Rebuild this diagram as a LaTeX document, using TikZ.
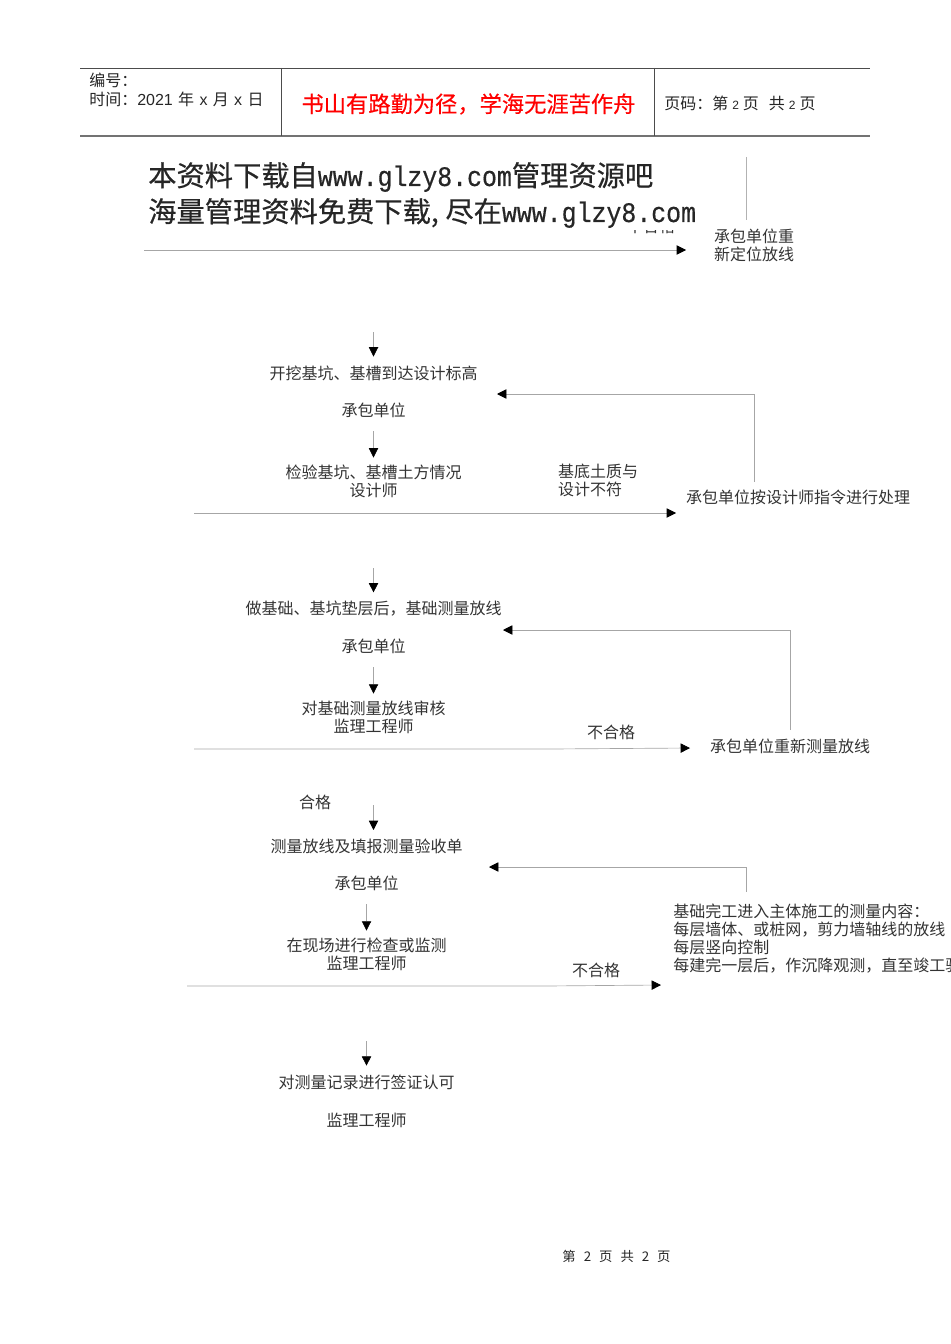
\documentclass[tikz,border=0pt]{standalone}
\usepackage{fontspec}
\setmainfont{Noto Sans CJK SC}
\newfontfamily\wmmono[FakeStretch=.88,FakeBold=.5]{Liberation Mono}
\newfontfamily\wmcjk[FakeBold=.5]{Noto Sans CJK SC}
\newfontfamily\redcjk[FakeBold=.35]{Noto Sans CJK SC}
\newfontfamily\hdlat{Liberation Sans}
\usetikzlibrary{arrows.meta}
\tikzset{
  lbl/.style={inner sep=3pt,font=\fontsize{12pt}{13.6pt}\selectfont,text=black!80,align=center},
  lblleft/.style={lbl,align=left,anchor=west},
  headtxt/.style={inner sep=0pt,anchor=west,font=\fontsize{12pt}{14pt}\selectfont,text=black!85,align=left},
  wmark/.style={inner sep=0pt,anchor=west,font=\wmcjk\fontsize{21.2pt}{24pt}\selectfont,text=black!85},
  flow/.style={draw=black!35,line width=.5pt,-{Triangle[length=7pt,width=7pt,fill=black,color=black]}},
  plain/.style={draw=black!30,line width=.5pt},
  rule/.style={draw=black!70,line width=.6pt}
}
\begin{document}
\begin{tikzpicture}[x=.75pt,y=-.75pt]
  \useasboundingbox (0,0) rectangle (950,1344);
  % header
  \coordinate (hTL) at (80,68);
  \coordinate (hTR) at (870,68);
  \coordinate (hBL) at (80,136);
  \coordinate (hBR) at (870,136);
  \coordinate (hA) at (281,68);
  \coordinate (hB) at (654.5,68);
  \draw[rule] (hTL) -- (hTR);
  \draw[rule,black!55,line width=1pt] (hBL) -- (hBR);
  \draw[rule] (hA) -- (hA |- hBL);
  \draw[rule] (hB) -- (hB |- hBL);
  \node[headtxt] (bianhao) at (89,80) {编号：};
  \node[headtxt] (shijian) at (89,99) {时间：{\hdlat 2021}\hspace{4pt}年\hspace{4pt}{\hdlat x}\hspace{4pt}月\hspace{4pt}{\hdlat x}\hspace{4pt}日};
  \node[inner sep=0pt,font=\redcjk\fontsize{16.7pt}{18pt}\selectfont,text=red] (motto) at (468.5,104) {书山有路勤为径，学海无涯苦作舟};
  \node[headtxt] (yema) at (664,103) {页码：第\hspace{3pt}{\hdlat\small 2}\hspace{3pt}页\hspace{7.5pt}共\hspace{3pt}{\hdlat\small 2}\hspace{3pt}页};
  % top of the chart
  \begin{scope}
    \clip (620,231) rectangle (680,240);
    \node[lbl] (hege0) at (651,226) {不合格};
  \end{scope}
  \node[wmark] (wm1) at (148,177) {本资料下载自{\wmmono www.glzy8.com}管理资源吧};
  \node[wmark] (wm2) at (148,213) {海量管理资料免费下载,\hspace{5pt}尽在{\wmmono www.glzy8.com}};
  \coordinate (v0) at (746,157);
  \coordinate (v0e) at (746,220);
  \draw[plain] (v0) -- (v0e);
  \node[lbl] (dingwei) at (754,245) {承包单位重\\新定位放线};
  \coordinate (l0) at (144,250);
  \coordinate (l0e) at (686,250);
  \draw[flow] (l0) -- (l0e);
  % first block
  \coordinate (a1) at (373.5,332);
  \node[lbl] (kaiwa) at (373.5,373) {开挖基坑、基槽到达设计标高};
  \node[lbl] (cb1) at (373.5,410) {承包单位};
  \node[lbl] (jianyan) at (373.5,481) {检验基坑、基槽土方情况\\设计师};
  \node[lbl,align=left] (tuzhi) at (598,480) {基底土质与\\设计不符};
  \node[lbl] (chuli) at (798,497) {承包单位按设计师指令进行处理};
  \draw[flow,shorten >=3.5pt] (a1) -- (kaiwa.north);
  \draw[flow,shorten <=7pt,shorten >=2pt] (cb1.south) -- (jianyan.north);
  \coordinate (l1) at (194,513);
  \coordinate (l1e) at (676,513);
  \draw[flow] (l1) -- (l1e);
  \coordinate (b1) at (754,482);
  \coordinate (b1m) at (754,394);
  \coordinate (b1e) at (497,394);
  \draw[flow] (b1) -- (b1m) -- (b1e);
  % second block
  \coordinate (a2) at (373.5,568);
  \node[lbl] (jichu) at (373.5,609) {做基础、基坑垫层后，基础测量放线};
  \node[lbl] (cb2) at (373.5,646) {承包单位};
  \node[lbl] (shenhe) at (373.5,717) {对基础测量放线审核\\监理工程师};
  \node[lbl] (bhg1) at (611,732) {不合格};
  \node[lbl] (chongxin) at (790,746) {承包单位重新测量放线};
  \draw[flow,shorten >=3.5pt] (a2) -- (jichu.north);
  \draw[flow,shorten <=7pt,shorten >=2pt] (cb2.south) -- (shenhe.north);
  \coordinate (l2) at (194,749);
  \coordinate (l2m) at (551,749);
  \coordinate (l2e) at (690,748);
  \draw[flow] (l2) -- (l2m) -- (l2e);
  \coordinate (b2) at (790,730);
  \coordinate (b2m) at (790,630);
  \coordinate (b2e) at (503,630);
  \draw[flow] (b2) -- (b2m) -- (b2e);
  % third block
  \node[lbl] (hege) at (315,802) {合格};
  \coordinate (a3) at (373.5,805);
  \node[lbl] (celiang) at (366.5,846) {测量放线及填报测量验收单};
  \coordinate (a3e) at (373.5,830);
  \node[lbl] (cb3) at (366.5,883) {承包单位};
  \node[lbl] (xianchang) at (366.5,954) {在现场进行检查或监测\\监理工程师};
  \node[lbl] (bhg2) at (596,970) {不合格};
  \draw[flow] (a3) -- (a3e);
  \draw[flow,shorten <=7pt,shorten >=2pt] (cb3.south) -- (xianchang.north);
  \coordinate (l3) at (187,986);
  \coordinate (l3m) at (546,986);
  \coordinate (l3e) at (661,985);
  \draw[flow] (l3) -- (l3m) -- (l3e);
  \coordinate (b3) at (746,892);
  \coordinate (b3m) at (746,867);
  \coordinate (b3e) at (489,867);
  \draw[flow] (b3) -- (b3m) -- (b3e);
  \begin{scope}
    \clip (660,895) rectangle (950,980);
    \node[lblleft] (neirong) at (669,938.5) {基础完工进入主体施工的测量内容：\\每层墙体、或桩网，剪力墙轴线的放线\\每层竖向控制\\每建完一层后，作沉降观测，直至竣工验收};
  \end{scope}
  % last step
  \coordinate (a4) at (366.5,1041);
  \node[lbl] (qianzheng) at (366.5,1082) {对测量记录进行签证认可};
  \node[lbl] (jl) at (366.5,1120) {监理工程师};
  \draw[flow,shorten >=3.5pt] (a4) -- (qianzheng.north);
  % footer
  \node[inner sep=0pt,font=\fontsize{10pt}{12pt}\selectfont,text=black!85] (foot) at (616.5,1256) {第\hspace{6pt}2\hspace{6pt}页\hspace{6pt}共\hspace{6pt}2\hspace{6pt}页};
\end{tikzpicture}
\end{document}
